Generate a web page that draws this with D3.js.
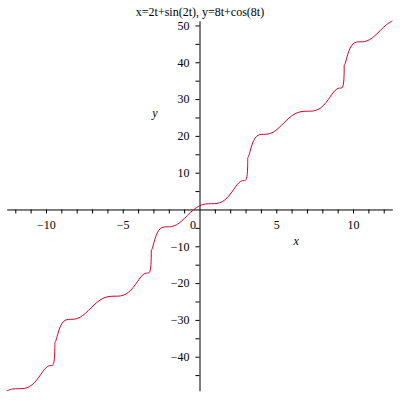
<!DOCTYPE html>
<html>
<head>
<meta charset="utf-8">
<script src="https://cdn.jsdelivr.net/npm/d3@7"></script>
<style>
  html, body { margin: 0; padding: 0; background: #fff; }
  svg { display: block; }
  text { font-family: "Liberation Serif", "Times New Roman", serif; }
</style>
</head>
<body>
<div id="chart"></div>
<script>
const xValues = [
  -12.566, -12.175, -11.791, -11.422, -11.074, -10.753, -10.464, -10.211,
  -9.996, -9.818, -9.679, -9.575, -9.503, -9.458, -9.435, -9.426,
  -9.425, -9.424, -9.415, -9.391, -9.346, -9.275, -9.171, -9.031,
  -8.854, -8.638, -8.385, -8.096, -7.776, -7.428, -7.059, -6.675,
  -6.283, -5.892, -5.508, -5.139, -4.791, -4.470, -4.181, -3.928,
  -3.712, -3.535, -3.396, -3.292, -3.220, -3.175, -3.152, -3.143,
  -3.142, -3.140, -3.132, -3.108, -3.063, -2.991, -2.887, -2.748,
  -2.571, -2.355, -2.102, -1.813, -1.493, -1.145, -0.775, -0.391,
  0,
  0.391, 0.775, 1.145, 1.493, 1.813, 2.102, 2.355, 2.571,
  2.748, 2.887, 2.991, 3.063, 3.108, 3.132, 3.140, 3.142,
  3.143, 3.152, 3.175, 3.220, 3.292, 3.396, 3.535, 3.712,
  3.928, 4.181, 4.470, 4.791, 5.139, 5.508, 5.892, 6.283,
  6.675, 7.059, 7.428, 7.776, 8.096, 8.385, 8.638, 8.854,
  9.031, 9.171, 9.275, 9.346, 9.391, 9.415, 9.424, 9.425,
  9.426, 9.435, 9.458, 9.503, 9.575, 9.679, 9.818, 9.996,
  10.211, 10.464, 10.753, 11.074, 11.422, 11.791, 12.175, 12.566
];
const yValues = [
  -49.266, -48.773, -48.695, -48.616, -48.124, -47.046, -45.553, -44.061,
  -42.982, -42.490, -42.412, -42.333, -41.841, -40.762, -39.270, -37.777,
  -36.699, -36.207, -36.128, -36.050, -35.558, -34.479, -32.987, -31.494,
  -30.416, -29.923, -29.845, -29.767, -29.274, -28.196, -26.704, -25.211,
  -24.133, -23.640, -23.562, -23.484, -22.991, -21.913, -20.420, -18.928,
  -17.850, -17.357, -17.279, -17.201, -16.708, -15.630, -14.137, -12.645,
  -11.566, -11.074, -10.996, -10.917, -10.425, -9.347, -7.854, -6.362,
  -5.283, -4.791, -4.712, -4.634, -4.142, -3.063, -1.571, -0.078,
  1,
  1.493, 1.571, 1.649, 2.142, 3.220, 4.712, 6.205, 7.283,
  7.776, 7.854, 7.932, 8.425, 9.503, 10.996, 12.488, 13.566,
  14.059, 14.137, 14.216, 14.708, 15.786, 17.279, 18.771, 19.850,
  20.342, 20.420, 20.499, 20.991, 22.069, 23.562, 25.054, 26.133,
  26.625, 26.704, 26.782, 27.274, 28.353, 29.845, 31.338, 32.416,
  32.908, 32.987, 33.065, 33.558, 34.636, 36.128, 37.621, 38.699,
  39.192, 39.270, 39.348, 39.841, 40.919, 42.412, 43.904, 44.982,
  45.475, 45.553, 45.631, 46.124, 47.202, 48.695, 50.187, 51.266
];
const xTicks = [-12,-11,-10,-9,-8,-7,-6,-5,-4,-3,-2,-1,1,2,3,4,5,6,7,8,9,10,11,12];
const xTickLabels = [-10, -5, 5, 10];
const yTicks = [-45,-40,-35,-30,-25,-20,-15,-10,-5,5,10,15,20,25,30,35,40,45,50];
const yTickLabels = [-40, -30, -20, -10, 10, 20, 30, 40, 50];
const titleText = "x=2t+sin(2t), y=8t+cos(8t)";

const W = 400, H = 400;
const svg = d3.select("#chart").append("svg").attr("width", W).attr("height", H);

const xExt = d3.extent(xValues), yExt = d3.extent(yValues);
const x = d3.scaleLinear().domain(xExt).range([6.6, 392.4]);
const y = d3.scaleLinear().domain(yExt).range([390.8, 20.8]);

const fmt = d3.format("d");

// x axis through y=0
const gx = svg.append("g")
  .attr("transform", `translate(0,${y(0)})`)
  .call(d3.axisBottom(x).tickValues(xTicks).tickSize(4).tickSizeOuter(0).tickPadding(7.5)
    .tickFormat(d => xTickLabels.includes(d) ? fmt(d) : ""));

// y axis through x=0
const gy = svg.append("g")
  .attr("transform", `translate(${x(0)},0)`)
  .call(d3.axisLeft(y).tickValues(yTicks).tickSize(4).tickSizeOuter(0).tickPadding(6)
    .tickFormat(d => yTickLabels.includes(d) ? fmt(d) : ""));

[gx, gy].forEach(g => {
  g.selectAll("text").attr("font-family", "Liberation Serif, serif").attr("font-size", 12).attr("fill", "#000");
  g.selectAll("line, path").attr("stroke", "#000").attr("stroke-width", 1);
});

// origin label
svg.append("text").attr("x", x(0) - 6.5).attr("y", y(0) + 19.5)
  .attr("text-anchor", "middle").attr("font-size", 12).text("0");

// axis titles
svg.append("text").attr("x", x(6.3)).attr("y", y(0) + 36)
  .attr("text-anchor", "middle").attr("font-size", 12).attr("font-style", "italic").text("x");
svg.append("text").attr("x", 155).attr("y", y(25))
  .attr("text-anchor", "middle").attr("font-size", 12).attr("font-style", "italic").text("y");

// title
svg.append("text").attr("x", 200).attr("y", 16)
  .attr("text-anchor", "middle").attr("font-size", 12).text(titleText);

// curve
const pts = xValues.map((v, i) => [v, yValues[i]]);
const line = d3.line().x(d => x(d[0])).y(d => y(d[1])).curve(d3.curveCatmullRom.alpha(0.5));
svg.append("path").datum(pts)
  .attr("d", line)
  .attr("fill", "none")
  .attr("stroke", "#d4002a")
  .attr("stroke-width", 1);
</script>
</body>
</html>
